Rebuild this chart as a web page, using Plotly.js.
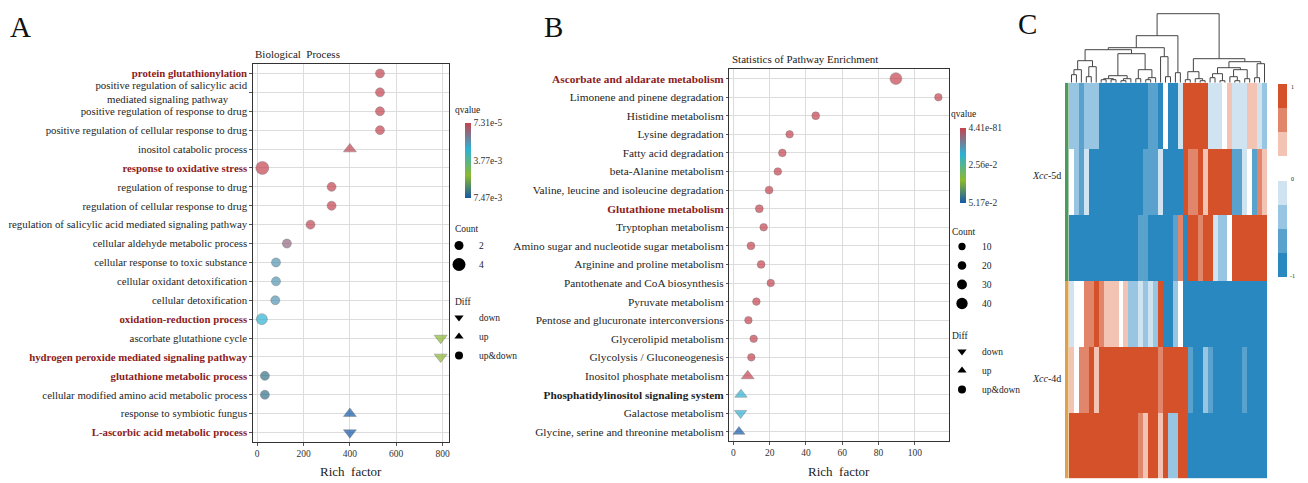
<!DOCTYPE html>
<html><head><meta charset="utf-8">
<script src="https://cdn.plot.ly/plotly-3.0.1.min.js"></script>
<style>html,body{margin:0;padding:0;background:#fff;}#chart{width:1308px;height:483px;}</style>
</head><body><div id="chart"></div>
<script>
// ---------- Panel A : Biological Process ----------
const termsA = [
  "protein glutathionylation",
  "positive regulation of salicylic acid<br>mediated signaling pathway\u00a0\u00a0\u00a0\u00a0\u00a0\u00a0\u00a0",
  "positive regulation of response to drug",
  "positive regulation of cellular response to drug",
  "inositol catabolic process",
  "response to oxidative stress",
  "regulation of response to drug",
  "regulation of cellular response to drug",
  "regulation of salicylic acid mediated signaling pathway",
  "cellular aldehyde metabolic process",
  "cellular response to toxic substance",
  "cellular oxidant detoxification",
  "cellular detoxification",
  "oxidation-reduction process",
  "ascorbate glutathione cycle",
  "hydrogen peroxide mediated signaling pathway",
  "glutathione metabolic process",
  "cellular modified amino acid metabolic process",
  "response to symbiotic fungus",
  "L-ascorbic acid metabolic process"
];
const richA  = [530, 530, 530, 530, 400, 22, 321, 321, 230, 128, 81, 81, 78, 20, 792, 792, 33, 33, 400, 400];
const countA = [2, 2, 2, 2, 2, 4, 2, 2, 2, 2, 2, 2, 2, 3, 2, 2, 2, 2, 2, 2];
const qA     = [1.0e-4, 1.0e-4, 1.0e-4, 1.0e-4, 1.5e-4, 1.0e-4, 1.0e-4, 1.0e-4, 2.0e-4, 1.0e-3,
                2.0e-3, 2.0e-3, 2.0e-3, 2.7e-3, 5.3e-3, 5.3e-3, 6.9e-3, 6.9e-3, 7.47e-3, 7.47e-3];
const diffA  = ["up&down","up&down","up&down","up&down","up","up&down","up&down","up&down","up&down","up&down",
                "up&down","up&down","up&down","up&down","down","down","up&down","up&down","up","down"];
const hiA    = [1,0,0,0,0,1,0,0,0,0,0,0,0,1,0,1,1,0,0,1];
const qTicksA = [7.31e-5, 3.77e-3, 7.47e-3];
const qTickTextA = ["7.31e-5", "3.77e-3", "7.47e-3"];
const countLegendA = [2, 4];

// ---------- Panel B : KEGG pathways ----------
const termsB = [
  "Ascorbate and aldarate metabolism",
  "Limonene and pinene degradation",
  "Histidine metabolism",
  "Lysine degradation",
  "Fatty acid degradation",
  "beta-Alanine metabolism",
  "Valine, leucine and isoleucine degradation",
  "Glutathione metabolism",
  "Tryptophan metabolism",
  "Amino sugar and nucleotide sugar metabolism",
  "Arginine and proline metabolism",
  "Pantothenate and CoA biosynthesis",
  "Pyruvate metabolism",
  "Pentose and glucuronate interconversions",
  "Glycerolipid metabolism",
  "Glycolysis / Gluconeogenesis",
  "Inositol phosphate metabolism",
  "Phosphatidylinositol signaling system",
  "Galactose metabolism",
  "Glycine, serine and threonine metabolism"
];
const richB  = [89.6, 113, 45.4, 31, 27, 24.5, 19.7, 14.3, 16.7, 9.7, 15.3, 20.6, 12.7, 8.3, 11.2, 9.9, 7.9, 4.2, 4.0, 3.1];
const countB = [44, 12, 14, 12, 13, 13, 14, 15, 13, 15, 14, 12, 13, 12, 12, 12, 14, 12, 12, 10];
const qB     = [4.41e-81, 1e-8, 1e-10, 1e-9, 1e-9, 1e-9, 1e-9, 1e-9, 1e-9, 1e-9,
                1e-9, 1e-8, 1e-8, 1e-8, 1e-8, 1e-8, 1e-6, 1.8e-2, 1.8e-2, 5.17e-2];
const diffB  = ["up&down","up&down","up&down","up&down","up&down","up&down","up&down","up&down","up&down","up&down",
                "up&down","up&down","up&down","up&down","up&down","up&down","up","up","down","up"];
const hiB    = [1,0,0,0,0,0,0,1,0,0,0,0,0,0,0,0,0,2,0,0];
const qTicksB = [4.41e-81, 2.56e-2, 5.17e-2];
const qTickTextB = ["4.41e-81", "2.56e-2", "5.17e-2"];
const countLegendB = [10, 20, 30, 40];
const diffLevels = ["down", "up", "up&down"];

// ---------- Panel C : heatmap ----------
const samplesC = ["Xcc-5d-1","Xcc-5d-2","Xcc-5d-3","Xcc-4d-1","Xcc-4d-2","Xcc-4d-3"];
const groupsC  = ["Xcc-5d","Xcc-5d","Xcc-5d","Xcc-4d","Xcc-4d","Xcc-4d"];
const heatRows = [
  [-0.5,-0.5,-0.75,-0.5,-0.5,-0.5,-1,-1,-1,-1,-1,-1,-1,-1,-1,-1,-0.75,-0.75,-1,0,-1,-1,-0.25,1,1,1,1,1,-0.25,-0.25,-0.25,0,0.33,-0.25,-0.25,-0.25,0.33,0.33,-0.25,-0.5],
  [0,-0.5,-0.75,-0.25,-1,-1,-1,-1,-1,-1,-1,-1,-1,-1,-1,-0.75,-0.75,-0.75,-0.25,-1,-1,-1,-1,1,0.67,0.67,1,0.33,1,1,1,1,1,-0.75,-0.75,-0.25,0,-0.75,0.67,0.33],
  [-1,-1,-1,-1,-1,-1,-1,-1,-1,-1,-1,-1,-1,-1,-0.75,-0.75,-1,-1,-1,-1,-1,-0.75,0.67,-1,1,1,0.67,1,1,-0.25,-0.5,-0.5,0,1,1,1,1,1,1,1],
  [-0.25,0,0,0.67,0.67,1,0.67,0.33,0.33,0.33,0,0.33,-0.5,-0.5,-0.25,-0.5,-0.25,-0.5,1,-1,-1,-0.5,0,-1,-1,-1,-1,-1,-1,-1,-1,-1,-1,-1,-1,-1,-1,-1,-1,-1],
  [0.33,0,0.67,0.67,1,0.33,1,1,1,1,1,1,1,1,1,1,1,1,0.67,1,1,1,1,1,-0.75,-1,-1,-0.5,-0.75,-1,-1,-1,-1,-1,-1,-0.75,-1,-1,-1,-1],
  [1,1,1,1,1,1,1,1,1,1,1,1,1,1,0.67,0.33,1,1,0.33,1,-0.5,-0.5,1,1,-1,-1,-1,-1,-1,-1,-1,-1,-1,-1,-1,-1,-1,-1,-1,-1]
];
const heatLevels = [-1, -0.75, -0.5, -0.25, 0, 0.33, 0.67, 1];
const heatColors = ["#2a88c0","#5aa2ce","#98c5e1","#cfe3f0","#ffffff","#f3c4b3","#e1866a","#d4512a"];
const legendLevelsC = [1, 0.67, 0.33, null, -0.25, -0.5, -0.75, -1];
// column dendrogram: [left, right, height]
const dendroTree = [
  [
    [
      [
        [[[0,1,8],2,13],[[3,4,6],5,16],22],
        [[[[6,7,3],[8,9,3],4],[[10,11,2],12,4],7],[[13,14,4],[[15,16,3],17,5],13],29],
        33
      ],
      [18,[19,20,6],26],
      35
    ],
    [21,22,10],
    47
  ],
  [
    [[23,24,3],[25,[26,27,2],4],11],
    [[[[28,29,5],[30,31,2],9],[[32,[33,34,2],6],[35,36,4],13],15],[[37,38,5],39,19],21],
    24
  ],
  69
];

// ---------- helpers ----------
const FONT = "Liberation Serif, Times New Roman, serif";
const W = 1308, H = 483;
const px = v => v / W, py = v => 1 - v / H;
const symbolOf = d => d === "down" ? "triangle-down" : (d === "up" ? "triangle-up" : "circle");
const triFactor = d => d === "up&down" ? 1 : 1.25;
const sizeA = c => 5 + 2 * c;
const sizeB = c => 5.9 + 0.135 * c;
// colour scale (for -q so that small q sits at the top of the bar)
const qScale = [[0,"#1559a8"],[0.3,"#8cb92e"],[0.65,"#2cb2d4"],[1,"#c6424f"]];
function styled(t, h) {
  if (h === 1) return '<span style="color:#8b1c1c"><b>' + t + '</b></span>';
  if (h === 2) return '<b>' + t + '</b>';
  return t;
}
function heatScale() {
  const s = [];
  for (let i = 0; i < heatLevels.length; i++) {
    const lo = i === 0 ? -1 : (heatLevels[i-1] + heatLevels[i]) / 2;
    const hi = i === heatLevels.length - 1 ? 1 : (heatLevels[i] + heatLevels[i+1]) / 2;
    s.push([(lo + 1) / 2, heatColors[i]], [(hi + 1) / 2, heatColors[i]]);
  }
  return s;
}
function buildDendro(node, segs) {
  if (typeof node === "number") return {x: node, h: 0};
  const a = buildDendro(node[0], segs), b = buildDendro(node[1], segs), h = node[2];
  segs.x.push(a.x, a.x, b.x, b.x, null);
  segs.y.push(a.h, h, h, b.h, null);
  return {x: (a.x + b.x) / 2, h: h};
}
const dseg = {x: [], y: []};
buildDendro(dendroTree, dseg);

const traces = [];
// Panel A points
traces.push({
  type: "scatter", mode: "markers", x: richA, y: termsA, xaxis: "x", yaxis: "y",
  showlegend: false, hoverinfo: "x+y",
  marker: {
    symbol: diffA.map(symbolOf), size: countA.map((c, i) => sizeA(c) * triFactor(diffA[i])),
    color: qA.map(q => -q), cmin: -qTicksA[2], cmax: -qTicksA[0], colorscale: qScale,
    line: {width: 0.6, color: "rgba(60,60,60,0.7)"},
    colorbar: {x: px(465), xanchor: "left", xpad: 0, y: py(123), yanchor: "top", ypad: 0,
      len: 75, lenmode: "pixels", thickness: 6, outlinewidth: 0, ticks: "",
      tickvals: qTicksA.map(q => -q), ticktext: qTickTextA,
      tickfont: {family: FONT, size: 9.5, color: "#333"}}
  }
});
// Panel B points
traces.push({
  type: "scatter", mode: "markers", x: richB, y: termsB, xaxis: "x2", yaxis: "y2",
  showlegend: false, hoverinfo: "x+y",
  marker: {
    symbol: diffB.map(symbolOf), size: countB.map((c, i) => sizeB(c) * triFactor(diffB[i]) * (diffB[i] === "up&down" ? 1 : 1.15)),
    color: qB.map(q => -q), cmin: -qTicksB[2], cmax: -qTicksB[0], colorscale: qScale,
    line: {width: 0.6, color: "rgba(60,60,60,0.7)"},
    colorbar: {x: px(960), xanchor: "left", xpad: 0, y: py(128), yanchor: "top", ypad: 0,
      len: 75, lenmode: "pixels", thickness: 6, outlinewidth: 0, ticks: "",
      tickvals: qTicksB.map(q => -q), ticktext: qTickTextB,
      tickfont: {family: FONT, size: 9.5, color: "#333"}}
  }
});
// legend entries
countLegendA.forEach(c => traces.push({type: "scatter", mode: "markers", x: [null], y: [null], xaxis: "x", yaxis: "y",
  name: String(c), legend: "legend2", marker: {symbol: "circle", size: sizeA(c), color: "#000"}}));
diffLevels.forEach(d => traces.push({type: "scatter", mode: "markers", x: [null], y: [null], xaxis: "x", yaxis: "y",
  name: d, legend: "legend3", marker: {symbol: symbolOf(d), size: 8, color: "#000"}}));
countLegendB.forEach(c => traces.push({type: "scatter", mode: "markers", x: [null], y: [null], xaxis: "x2", yaxis: "y2",
  name: String(c), legend: "legend4", marker: {symbol: "circle", size: sizeB(c), color: "#000"}}));
diffLevels.forEach(d => traces.push({type: "scatter", mode: "markers", x: [null], y: [null], xaxis: "x2", yaxis: "y2",
  name: d, legend: "legend5", marker: {symbol: symbolOf(d), size: 8, color: "#000"}}));
// Panel C heatmap
traces.push({type: "heatmap", z: heatRows, y: samplesC, xaxis: "x3", yaxis: "y3", zmin: -1, zmax: 1,
  colorscale: heatScale(), showscale: false, hoverinfo: "z"});
traces.push({type: "scatter", mode: "lines", x: dseg.x, y: dseg.y, xaxis: "x4", yaxis: "y4",
  line: {color: "#444", width: 1}, showlegend: false, hoverinfo: "skip"});
traces.push({type: "heatmap", z: groupsC.map(g => [g === "Xcc-5d" ? 0 : 1]), xaxis: "x5", yaxis: "y5",
  zmin: 0, zmax: 1, colorscale: [[0,"#4b9b5e"],[1,"#dea24f"]], showscale: false, hoverinfo: "skip"});
traces.push({type: "heatmap", z: legendLevelsC.map(v => [v]), xaxis: "x6", yaxis: "y6", zmin: -1, zmax: 1,
  colorscale: heatScale(), showscale: false, hoverinfo: "skip"});

const baseX = {showline: true, mirror: true, linecolor: "#333", linewidth: 1, showgrid: true, gridcolor: "#dcdcdc",
  gridwidth: 1, zeroline: false, ticks: "outside", ticklen: 3, tickcolor: "#555",
  tickfont: {family: FONT, size: 9.5, color: "#333"}, fixedrange: true};
const baseY = Object.assign({}, baseX, {type: "category"});
const hidden = {visible: false, fixedrange: true};
const legendBase = {xanchor: "left", yanchor: "top", bgcolor: "rgba(0,0,0,0)", borderwidth: 0,
  font: {family: FONT, size: 9.5, color: "#222"}, itemsizing: "trace", tracegroupgap: 0};

const layout = {
  width: W, height: H, margin: {l: 0, r: 0, t: 0, b: 0}, paper_bgcolor: "#fff", plot_bgcolor: "#fff",
  showlegend: true,
  xaxis: Object.assign({}, baseX, {domain: [px(253.3), px(449)], range: [-17, 828], tickvals: [0,200,400,600,800], anchor: "y"}),
  yaxis: Object.assign({}, baseY, {domain: [py(442), py(64)], range: [19.5, -0.5], categoryarray: termsA, categoryorder: "array",
    tickvals: termsA, ticktext: termsA.map((t, i) => styled(t, hiA[i])), anchor: "x",
    tickfont: {family: FONT, size: 10.8, color: "#1e1e1e"}}),
  xaxis2: Object.assign({}, baseX, {domain: [px(729), px(948.7)], range: [-2.4, 118.7], tickvals: [0,20,40,60,80,100], anchor: "y2"}),
  yaxis2: Object.assign({}, baseY, {domain: [py(441), py(69.3)], range: [19.5, -0.5], categoryarray: termsB, categoryorder: "array",
    tickvals: termsB, ticktext: termsB.map((t, i) => styled(t, hiB[i])), ticklen: 2, anchor: "x2",
    tickfont: {family: FONT, size: 11.3, color: "#1e1e1e"}}),
  xaxis3: Object.assign({}, hidden, {domain: [px(1069), px(1267)], range: [-0.5, 39.5], anchor: "y3"}),
  yaxis3: Object.assign({}, hidden, {domain: [py(478.3), py(82.7)], range: [5.5, -0.5], anchor: "x3"}),
  xaxis4: Object.assign({}, hidden, {domain: [px(1069), px(1267)], range: [-0.5, 39.5], anchor: "y4"}),
  yaxis4: Object.assign({}, hidden, {domain: [py(82.7), py(10)], range: [0, 72.7], anchor: "x4"}),
  xaxis5: Object.assign({}, hidden, {domain: [px(1065), px(1068.5)], range: [-0.5, 0.5], anchor: "y5"}),
  yaxis5: Object.assign({}, hidden, {domain: [py(478.3), py(82.7)], range: [5.5, -0.5], anchor: "x5"}),
  xaxis6: Object.assign({}, hidden, {domain: [px(1278), px(1287)], range: [-0.5, 0.5], anchor: "y6"}),
  yaxis6: Object.assign({}, hidden, {domain: [py(277), py(84)], range: [7.5, -0.5], anchor: "x6"}),
  legend2: Object.assign({}, legendBase, {x: px(439), y: py(231)}),
  legend3: Object.assign({}, legendBase, {x: px(439), y: py(303)}),
  legend4: Object.assign({}, legendBase, {x: px(942), y: py(232)}),
  legend5: Object.assign({}, legendBase, {x: px(942), y: py(337)}),
  annotations: []
};
const ann = (text, x, y, o) => layout.annotations.push(Object.assign({text: text, x: px(x), y: py(y), xref: "paper", yref: "paper",
  showarrow: false, xanchor: "left", yanchor: "middle", font: {family: FONT, size: 9.5, color: "#222"}}, o || {}));
ann("A", 8, 27, {font: {family: FONT, size: 29, color: "#111"}});
ann("B", 542, 27, {font: {family: FONT, size: 29, color: "#111"}});
ann("C", 1016, 24, {font: {family: FONT, size: 29, color: "#111"}});
ann("Biological  Process", 253, 54, {font: {family: FONT, size: 11, color: "#222"}});
ann("Statistics of Pathway Enrichment", 730, 59, {font: {family: FONT, size: 11, color: "#222"}});
ann("Rich  factor", 351, 471, {xanchor: "center", font: {family: FONT, size: 13, color: "#222"}});
ann("Rich  factor", 839, 471, {xanchor: "center", font: {family: FONT, size: 13, color: "#222"}});
ann("qvalue", 453, 110);
ann("Count", 453, 229);
ann("Diff", 453, 302);
ann("qvalue", 949, 114);
ann("Count", 950, 232);
ann("Diff", 950, 336);
ann("<i>Xcc</i>-5d", 1063, 175, {xanchor: "right", font: {family: FONT, size: 10, color: "#222"}});
ann("<i>Xcc</i>-4d", 1063, 378, {xanchor: "right", font: {family: FONT, size: 10, color: "#222"}});
ann("1", 1289, 87, {font: {family: FONT, size: 6, color: "#222"}});
ann("0", 1289, 179, {font: {family: FONT, size: 6, color: "#222"}});
ann("-1", 1288, 276, {font: {family: FONT, size: 6, color: "#222"}});

Plotly.newPlot("chart", traces, layout, {displayModeBar: false, staticPlot: true});
</script></body></html>
